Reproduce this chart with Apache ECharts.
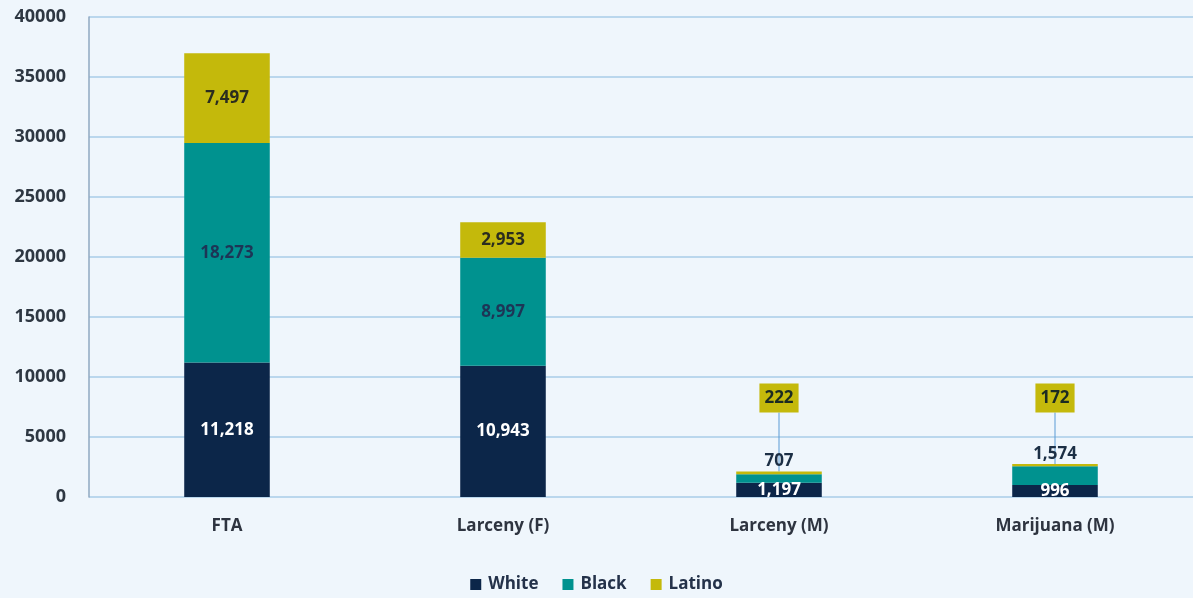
<!DOCTYPE html>
<html>
<head>
<meta charset="utf-8">
<script src="https://cdn.jsdelivr.net/npm/echarts@6/dist/echarts.min.js"></script>
<style>
  html, body { margin: 0; padding: 0; background: #eff6fc; }
  #chart { width: 1193px; height: 598px; }
</style>
</head>
<body>
<div id="chart"></div>
<script>
var categories = ['FTA', 'Larceny (F)', 'Larceny (M)', 'Marijuana (M)'];
var white = [11218, 10943, 1197, 996];
var black = [18273, 8997, 707, 1574];
var latino = [7497, 2953, 222, 172];
var yTicks = [0, 5000, 10000, 15000, 20000, 25000, 30000, 35000, 40000];

var font = '"Open Sans", sans-serif';
var chart = echarts.init(document.getElementById('chart'));

function fmt(p) {
  return p.value.toLocaleString('en-US');
}

// small bars get their labels moved out of the bar
var blackData = black.map(function(v, i) {
  if (i < 2) return v;
  return { value: v, label: { position: 'top', distance: 4, color: '#1c2f45', fontWeight: 'bold', fontSize: 17 } };
});
var latinoData = latino.map(function(v, i) {
  if (i < 2) return v;
  return {
    value: v,
    label: {
      position: 'top',
      backgroundColor: '#c4b90b',
      padding: [7, 5, 5, 5],
      color: '#1c2b22',
      fontSize: 17
    }
  };
});

chart.setOption({
  animation: false,
  backgroundColor: '#eff6fc',
  textStyle: { fontFamily: font },
  grid: { left: 89, right: -3, top: 17, bottom: 101, containLabel: false },
  legend: {
    bottom: 0,
    left: 'center',
    itemWidth: 11,
    itemHeight: 11,
    itemGap: 24,
    icon: 'rect',
    textStyle: { fontFamily: font, fontWeight: 'bold', fontSize: 17, color: '#24324a', padding: [0, 0, 0, 2] },
    data: ['White', 'Black', 'Latino']
  },
  xAxis: {
    type: 'category',
    data: categories,
    axisLine: { show: false },
    axisTick: { show: false },
    axisLabel: { margin: 21, fontFamily: font, fontWeight: 'bold', fontSize: 17, color: '#2e3440' }
  },
  yAxis: {
    type: 'value',
    min: yTicks[0],
    max: yTicks[yTicks.length - 1],
    interval: 5000,
    axisLine: { show: true, lineStyle: { color: '#8fa9c2', width: 1.5 } },
    axisTick: { show: false },
    splitLine: { lineStyle: { color: '#a9cde9', width: 1.5 } },
    axisLabel: {
      margin: 23,
      formatter: function(v) { return String(v); },
      fontFamily: font, fontWeight: 'bold', fontSize: 18, color: '#2e3742'
    }
  },
  series: [
    {
      name: 'White', type: 'bar', stack: 'total', barWidth: '31%',
      itemStyle: { color: '#0c2649' },
      label: { show: true, position: 'inside', formatter: fmt, color: '#ffffff', fontWeight: 'bold', fontSize: 17 },
      data: white
    },
    {
      name: 'Black', type: 'bar', stack: 'total',
      itemStyle: { color: '#00928f' },
      label: { show: true, position: 'inside', formatter: fmt, color: '#1d3556', fontWeight: 'bold', fontSize: 17 },
      data: blackData
    },
    {
      name: 'Latino', type: 'bar', stack: 'total',
      itemStyle: { color: '#c4b90b' },
      label: { show: true, position: 'inside', formatter: fmt, color: '#2b2d1f', fontWeight: 'bold', fontSize: 17 },
      labelLayout: function(p) {
        if (p.dataIndex < 2) return {};
        return {
          x: p.rect.x + p.rect.width / 2,
          y: 398,
          align: 'center',
          verticalAlign: 'middle'
        };
      },
      labelLine: { show: true, lineStyle: { color: '#5b9bd5', width: 1 } },
      data: latinoData
    }
  ]
});
</script>
</body>
</html>
